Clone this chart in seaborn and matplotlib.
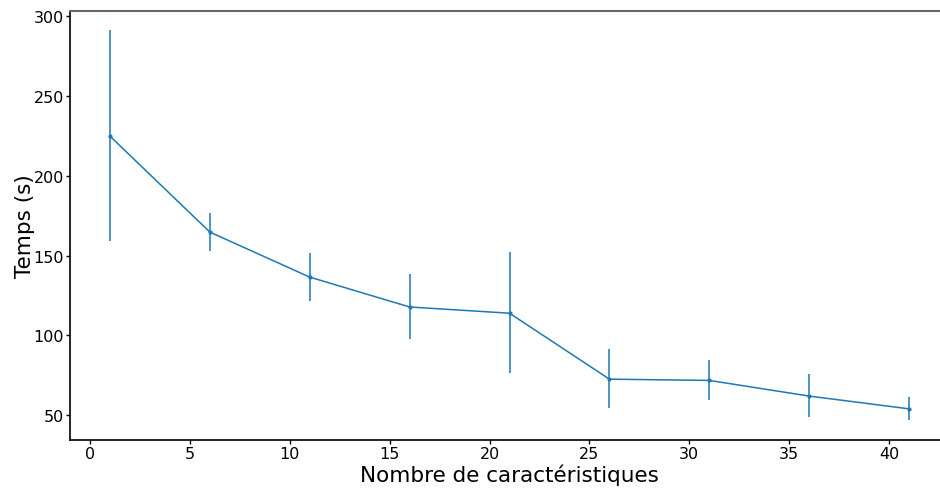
import matplotlib
matplotlib.use("Agg")
import matplotlib.pyplot as plt
import seaborn as sns
import pandas as pd
import numpy as np

features = [1, 6, 11, 16, 21, 26, 31, 36, 41]
temps = [224.8, 164.7, 136.5, 117.8, 113.9, 72.6, 71.8, 62.0, 54.0]
err_low = [159.0, 152.8, 121.4, 97.8, 76.5, 54.4, 59.5, 48.8, 47.0]
err_high = [291.0, 176.4, 151.5, 138.2, 152.0, 91.2, 84.4, 75.6, 61.2]

df = pd.DataFrame({"features": features, "temps": temps})

sns.set_style("white")
plt.rcParams['font.family'] = ['DejaVu Sans']

fig = plt.figure(figsize=(9.40, 4.89), dpi=100)
ax = fig.add_axes([0.0745, 0.0982, 1.0096 - 0.0745, 0.9755 - 0.0982])

color = "#1f77b4"
sns.lineplot(data=df, x="features", y="temps", ax=ax, color=color,
             marker="o", markersize=3, linewidth=1.1, errorbar=None,
             markeredgewidth=0)
lo = np.array(temps) - np.array(err_low)
hi = np.array(err_high) - np.array(temps)
ax.errorbar(features, temps, yerr=[lo, hi], fmt="none", ecolor=color,
            elinewidth=1.3, alpha=0.85)

ax.set_xlim(-1, 43)
ax.set_ylim(34.5, 303.2)
ax.set_xticks([0, 5, 10, 15, 20, 25, 30, 35, 40])
ax.set_yticks([50, 100, 150, 200, 250, 300])
ax.tick_params(axis="both", labelsize=11.5, length=3, width=1, direction="out",
               left=True, bottom=True, colors="black", pad=1.5)
ax.set_xlabel("Nombre de caractéristiques", fontsize=15.5, color="black")
ax.set_ylabel("Temps (s)", fontsize=15.5, color="black")
ax.xaxis.set_label_coords(0.5, -0.054)
ax.yaxis.set_label_coords(-0.040, 0.5)

for s in ["left", "bottom"]:
    ax.spines[s].set_color("black")
    ax.spines[s].set_linewidth(1.2)
ax.spines["top"].set_color("#666666")
ax.spines["top"].set_linewidth(1.5)
ax.spines["right"].set_visible(False)

fig.savefig("out.png", dpi=100)
